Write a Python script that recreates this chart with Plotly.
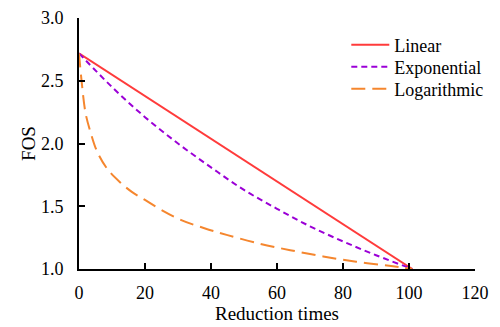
import plotly.graph_objects as go

# Data
x_linear = [0, 101]
fos_linear = [2.718, 1.0]

x_exp = [0, 10, 20, 30, 40, 50, 60, 70, 80, 90, 101]
fos_exp = [2.718, 2.45, 2.21, 2.00, 1.81, 1.63, 1.48, 1.34, 1.22, 1.11, 1.0]

x_log = [0, 0.7, 2, 3.5, 5.5, 8.5, 12.5, 16, 20, 25, 31, 38, 45, 55, 64, 74, 84, 94, 101]
fos_log = [2.718, 2.52, 2.24, 2.09, 1.935, 1.80, 1.69, 1.615, 1.55, 1.47, 1.39, 1.325,
           1.27, 1.20, 1.15, 1.10, 1.058, 1.025, 1.0]

x_ticks = [0, 20, 40, 60, 80, 100, 120]
y_ticks = [1.0, 1.5, 2.0, 2.5, 3.0]

FONT = "'Times New Roman', 'Liberation Serif', 'DejaVu Serif', serif"

fig = go.Figure()
fig.add_trace(go.Scatter(x=x_linear, y=fos_linear, mode="lines", name="Linear",
                         legend="legend",
                         line=dict(color="#ff3b3b", width=2)))
fig.add_trace(go.Scatter(x=x_exp, y=fos_exp, mode="lines", name="Exponential",
                         legend="legend2",
                         line=dict(color="#9b00d6", width=2, dash="6px,4px", shape="spline")))
fig.add_trace(go.Scatter(x=x_log, y=fos_log, mode="lines", name="Logarithmic",
                         legend="legend3",
                         line=dict(color="#f5862e", width=2, dash="14px,7px", shape="spline")))

leg = dict(x=0.675, xanchor="left", yanchor="middle", bgcolor="rgba(0,0,0,0)",
           font=dict(family=FONT, size=18), itemwidth=38)

fig.update_layout(
    width=500, height=327,
    margin=dict(l=79, r=22, t=18, b=58),
    paper_bgcolor="white", plot_bgcolor="white",
    font=dict(family=FONT, size=18, color="black"),
    showlegend=True,
    legend=dict(leg, y=0.892),
    legend2=dict(leg, y=0.805),
    legend3=dict(leg, y=0.717),
    xaxis=dict(range=[0, 120], tickvals=x_ticks, ticktext=[str(v) for v in x_ticks],
               showgrid=False, zeroline=False, showline=True, linecolor="black", linewidth=2,
               ticks="inside", ticklen=6, tickwidth=2, tickcolor="black",
               ticklabelstandoff=6, automargin=False,
               title=dict(text="Reduction times", font=dict(family=FONT, size=19), standoff=4)),
    yaxis=dict(range=[1, 3], tickvals=y_ticks, ticktext=[f"{v:.1f}" for v in y_ticks],
               showgrid=False, zeroline=False, showline=True, linecolor="black", linewidth=2,
               ticks="inside", ticklen=6, tickwidth=2, tickcolor="black",
               ticklabelstandoff=10, automargin=False,
               title=dict(text="FOS", font=dict(family=FONT, size=19), standoff=0)),
)

fig.write_html("out.html")
